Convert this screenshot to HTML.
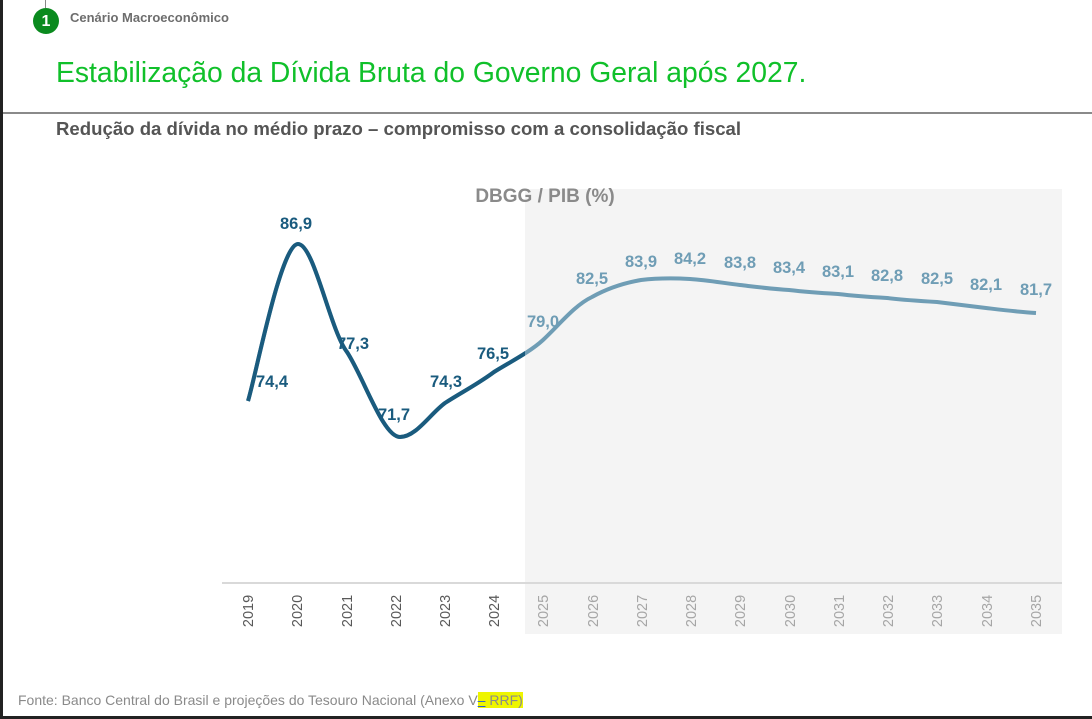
<!DOCTYPE html>
<html><head><meta charset="utf-8"><style>
body{margin:0;width:1092px;height:719px;overflow:hidden;background:#fff;font-family:"Liberation Sans",sans-serif;position:relative}
.t{position:absolute;white-space:nowrap}
</style></head><body>
<div style="position:absolute;left:0;top:0;width:3px;height:719px;background:#222"></div>
<div style="position:absolute;left:0;top:716px;width:1092px;height:3px;background:#222"></div>
<div style="position:absolute;left:45px;top:0;width:1px;height:8px;background:#888"></div>
<div style="position:absolute;left:33px;top:8px;width:26px;height:26px;border-radius:50%;background:#0a8a1e;color:#fff;font-weight:bold;font-size:16px;text-align:center;line-height:27px">1</div>
<div class="t" style="left:70px;top:10px;font-size:13px;font-weight:bold;color:#6d6d6d">Cenário Macroeconômico</div>
<div class="t" style="left:56px;top:56px;font-size:28.3px;color:#10c02a">Estabilização da Dívida Bruta do Governo Geral após 2027.</div>
<div style="position:absolute;left:3px;top:112px;width:1089px;height:2px;background:#8a8a8a"></div>
<div class="t" style="left:56px;top:118px;font-size:18.6px;font-weight:bold;color:#555">Redução da dívida no médio prazo – compromisso com a consolidação fiscal</div>
<svg width="1092" height="719" style="position:absolute;left:0;top:0">
<defs><clipPath id="c"><rect x="0" y="0" width="525" height="719"/></clipPath></defs>
<rect x="525" y="189" width="537" height="445" fill="#f4f4f4"/>
<line x1="222" y1="583" x2="1062" y2="583" stroke="#d9d9d9" stroke-width="2"/>
<text x="545" y="202" font-size="19" font-weight="bold" fill="#8a8a8a" text-anchor="middle" font-family="Liberation Sans">DBGG / PIB (%)</text>
<path d="M248,401 C256,375 281,244 298,244 C314,244 330,330 347,352 C364,378 383,437 400,437 C416,437 430,414 445,403 C462,392 478,384 494,372 C510,362 530,352 543,340 C560,324 575,305 592,297 C608,288 624,283 641,280 C658,278 673,278 690,279 C707,280 723,283 740,285 C757,287 772,289 789,290 C806,292 821,293 838,294 C855,296 870,297 887,298 C904,300 920,301 937,302 C954,304 969,306 986,308 C1003,310 1019,312 1036,313" fill="none" stroke="#6f9db5" stroke-width="4"/>
<path d="M248,401 C256,375 281,244 298,244 C314,244 330,330 347,352 C364,378 383,437 400,437 C416,437 430,414 445,403 C462,392 478,384 494,372 C510,362 530,352 543,340" fill="none" stroke="#1a5b7e" stroke-width="4" clip-path="url(#c)"/>
<g font-family="Liberation Sans" font-size="16.5" font-weight="bold" text-anchor="middle" fill="#1a5b7e">
<text x="296" y="229">86,9</text><text x="272" y="387">74,4</text><text x="353" y="349">77,3</text><text x="394" y="420">71,7</text><text x="446" y="387">74,3</text><text x="493" y="359">76,5</text>
</g>
<g font-family="Liberation Sans" font-size="16.5" font-weight="bold" text-anchor="middle" fill="#6f9db5">
<text x="543" y="327">79,0</text><text x="592" y="284">82,5</text><text x="641" y="267">83,9</text><text x="690" y="264">84,2</text><text x="740" y="268">83,8</text><text x="789" y="273">83,4</text><text x="838" y="277">83,1</text><text x="887" y="281">82,8</text><text x="937" y="284">82,5</text><text x="986" y="290">82,1</text><text x="1036" y="295">81,7</text>
</g>
<g font-family="Liberation Sans" font-size="14.5" text-anchor="middle">
<text transform="translate(253,611) rotate(-90)" fill="#595959">2019</text>
<text transform="translate(302,611) rotate(-90)" fill="#595959">2020</text>
<text transform="translate(352,611) rotate(-90)" fill="#595959">2021</text>
<text transform="translate(401,611) rotate(-90)" fill="#595959">2022</text>
<text transform="translate(450,611) rotate(-90)" fill="#595959">2023</text>
<text transform="translate(499,611) rotate(-90)" fill="#595959">2024</text>
<text transform="translate(548,611) rotate(-90)" fill="#a6a6a6">2025</text>
<text transform="translate(598,611) rotate(-90)" fill="#a6a6a6">2026</text>
<text transform="translate(647,611) rotate(-90)" fill="#a6a6a6">2027</text>
<text transform="translate(696,611) rotate(-90)" fill="#a6a6a6">2028</text>
<text transform="translate(745,611) rotate(-90)" fill="#a6a6a6">2029</text>
<text transform="translate(795,611) rotate(-90)" fill="#a6a6a6">2030</text>
<text transform="translate(844,611) rotate(-90)" fill="#a6a6a6">2031</text>
<text transform="translate(893,611) rotate(-90)" fill="#a6a6a6">2032</text>
<text transform="translate(942,611) rotate(-90)" fill="#a6a6a6">2033</text>
<text transform="translate(992,611) rotate(-90)" fill="#a6a6a6">2034</text>
<text transform="translate(1041,611) rotate(-90)" fill="#a6a6a6">2035</text>
</g>
</svg>
<div class="t" style="left:18px;top:692px;font-size:14px;color:#8a8a8a">Fonte: Banco Central do Brasil e projeções do Tesouro Nacional (Anexo V<span style="background:#eef500;color:#8a8a8a"><u style="color:#2a5bd7">–</u> RRF)</span></div>
</body></html>
